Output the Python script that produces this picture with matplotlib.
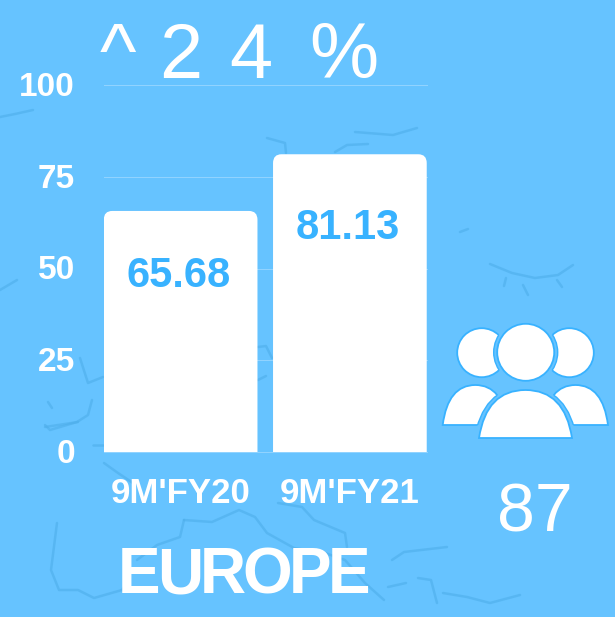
import matplotlib
matplotlib.use('Agg')
import matplotlib.pyplot as plt
from matplotlib.path import Path
from matplotlib.patches import PathPatch, Circle
from matplotlib.transforms import ScaledTranslation

# data
categories = ["9M'FY20", "9M'FY21"]
values = [65.68, 81.13]
value_labels = ['65.68', '81.13']
label_heights = [47.9, 60.9]
yticks = [0, 25, 50, 75, 100]
growth_parts = ['^', '2', '4', '%']
growth_x = [100, 159, 229, 309]
region_letters = list('EUROPE')
region_x = [118, 157.2, 199.9, 242.6, 288.9, 328.1]
headcount = '87'

BG = '#66c3ff'
BLUE = '#38b2ff'
SHADOW = '#4eaeea'

# faint map outline in the background, in pixels of the picture
coast = [
    [(0, 117), (15, 114), (33, 110)],
    [(267, 138), (285, 143), (286, 153)],
    [(335, 152), (347, 145), (368, 144)],
    [(355, 132), (393, 135), (417, 128)],
    [(0, 290), (17, 280)],
    [(490, 264), (512, 273), (535, 278), (558, 275), (573, 265)],
    [(506, 278), (504, 286)],
    [(523, 285), (528, 295)],
    [(557, 280), (562, 287)],
    [(460, 232), (468, 229)],
    [(258, 347), (266, 346), (272, 358)],
    [(258, 380), (266, 376)],
    [(80, 358), (88, 383), (103, 377)],
    [(48, 402), (52, 408)],
    [(45, 425), (50, 430), (77, 422), (88, 415), (92, 400)],
    [(45, 427), (78, 422)],
    [(93, 445), (103, 445)],
    [(104, 463), (118, 473), (133, 483)],
    [(184, 520), (212, 522), (239, 510), (255, 517), (267, 533), (294, 548), (325, 553), (345, 560), (365, 583), (384, 600)],
    [(278, 503), (302, 507), (314, 520), (345, 533), (347, 547)],
    [(392, 560), (404, 552), (447, 547)],
    [(388, 587), (406, 583)],
    [(418, 578), (431, 580), (437, 603)],
    [(443, 593), (467, 597), (490, 603), (520, 595)],
    [(57, 523), (51, 570), (59, 590), (78, 590), (94, 598), (122, 590), (129, 580)],
    [(184, 520), (180, 537), (157, 545), (137, 560)],
]


def rounded_top(x, w, h, rx, ry):
    l, r = x - w / 2, x + w / 2
    verts = [(l, 0), (l, h - ry), (l, h), (l + rx, h), (r - rx, h), (r, h), (r, h - ry), (r, 0), (l, 0)]
    codes = [Path.MOVETO, Path.LINETO, Path.CURVE3, Path.CURVE3, Path.LINETO,
             Path.CURVE3, Path.CURVE3, Path.LINETO, Path.CLOSEPOLY]
    return Path(verts, codes)


def dome(l, r, base, top):
    verts = [(l, base), (l + (r - l) * 0.08, top), ((l + r) / 2, top),
             (r - (r - l) * 0.08, top), (r, base), (l, base)]
    codes = [Path.MOVETO, Path.CURVE3, Path.CURVE3, Path.CURVE3, Path.CURVE3, Path.CLOSEPOLY]
    return Path(verts, codes)


plt.rcParams['font.family'] = ['Liberation Sans', 'DejaVu Sans']
fig = plt.figure(figsize=(6.15, 6.17), dpi=100, facecolor=BG)

# full figure layer in pixels for the map, the icon and the free text
bg = fig.add_axes([0, 0, 1, 1], zorder=0)
bg.set_xlim(0, 615)
bg.set_ylim(617, 0)
bg.axis('off')
for line in coast:
    bg.plot([p[0] for p in line], [p[1] for p in line], color=SHADOW, lw=1.8,
            alpha=0.6, solid_capstyle='round')

ax = fig.add_axes([104 / 615, (617 - 452) / 617, 323 / 615, 367 / 617], zorder=1)
ax.patch.set_alpha(0)
ax.set_xlim(-0.4527, 1.4556)
ax.set_ylim(0, 100)
for s in ax.spines.values():
    s.set_visible(False)
ax.grid(axis='y', color='#93d4ff', lw=0.7)
for g in ax.get_ygridlines():
    g.set_clip_on(False)
ax.set_axisbelow(True)
ax.set_yticks(yticks)
ax.set_xticks(range(len(categories)))
ax.set_xticklabels(categories)
ax.tick_params(length=0)
ax.tick_params(axis='y', pad=21, labelsize=24, labelcolor='white')
ax.tick_params(axis='x', pad=18, labelsize=25, labelcolor='white')
for t in ax.get_xticklabels() + ax.get_yticklabels():
    t.set_fontweight('bold')
up = ScaledTranslation(0, 0.8 / 72, fig.dpi_scale_trans)
for t in ax.get_yticklabels():
    t.set_transform(t.get_transform() + up)

for i, v in enumerate(values):
    ax.add_patch(PathPatch(rounded_top(i, 0.908, v, 0.05, 2.4), fc='white', ec='none', zorder=3))
    ax.text(i - 0.01, label_heights[i], value_labels[i], color=BLUE, fontsize=30, fontweight='bold',
            ha='center', va='center', zorder=4)

top = fig.add_axes([0, 0, 1, 1], zorder=2)
top.set_xlim(0, 615)
top.set_ylim(617, 0)
top.axis('off')
top.patch.set_alpha(0)

for part, x in zip(growth_parts, growth_x):
    top.text(x, 78, part, color='white', fontsize=56, ha='left', va='baseline')
top.text(535, 531, headcount, color='white', fontsize=49, ha='center', va='baseline')
for letter, x in zip(region_letters, region_x):
    top.text(x, 593, letter, color='white', fontsize=46, fontweight='bold', ha='left', va='baseline')

# people icon
heads = []
for cx in (481.7, 569.3):
    c = Circle((cx, 352.7), 24.5, fc='white', ec=BLUE, lw=1.3)
    top.add_patch(c)
    heads.append(c)
bodies = []
for l, r in ((442.7, 508), (543, 608)):
    b = PathPatch(dome(l, r, 425, 385), fc='white', ec=BLUE, lw=1.3)
    top.add_patch(b)
    bodies.append(b)
top.add_patch(Circle((525.7, 352.3), 32, fc=BG, ec='none'))
for c in heads:
    ring = Circle((525.7, 352.3), 32, fc='none', ec=BLUE, lw=1.0)
    top.add_patch(ring)
    ring.set_clip_path(c)
top.add_patch(Circle((525.7, 352.3), 28.5, fc='white', ec=BLUE, lw=1.3))
top.add_patch(PathPatch(dome(474, 577, 441, 387), fc=BG, ec='none'))
for b in bodies:
    ring = PathPatch(dome(474, 577, 441, 387), fc='none', ec=BLUE, lw=1.0)
    top.add_patch(ring)
    ring.set_clip_path(b)
top.add_patch(PathPatch(dome(479, 572, 438, 390), fc='white', ec=BLUE, lw=1.3))

fig.savefig('out.png', dpi=100, facecolor=BG)
